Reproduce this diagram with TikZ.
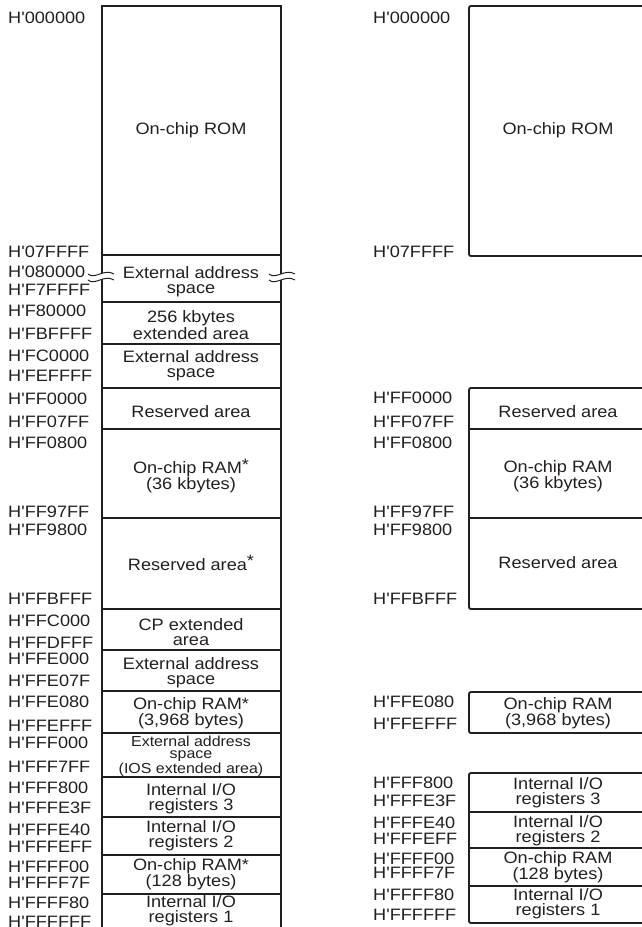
\documentclass[tikz,border=0pt]{standalone}
\usepackage{fontspec}
\newfontfamily\mapfont{Liberation Sans}[FakeStretch=1.1]
\definecolor{ink}{RGB}{35,31,32}
\newcommand\supast{\raisebox{3.5pt}{*}}
\begin{document}
\begin{tikzpicture}[x=1pt,y=-1pt,
  lbl/.style={anchor=west,inner sep=0pt,text=ink,font=\mapfont\fontsize{16.5}{15}\selectfont},
  txt/.style={align=center,inner sep=0pt,text=ink,font=\mapfont\fontsize{16.5}{15}\selectfont},
  tighttxt/.style={align=center,inner sep=0pt,text=ink,font=\mapfont\fontsize{16.5}{14}\selectfont},
  smalltxt/.style={align=center,inner sep=0pt,text=ink,font=\mapfont\fontsize{14.5}{12}\selectfont},
  mapline/.style={line width=1.9pt,draw=ink},
  wave/.style={line width=1pt,draw=ink}]
\useasboundingbox (0,0) rectangle (642,927);
\clip (0,0) rectangle (642,927);

% ---------- left map ----------
\draw[mapline] (102,940) -- (102,6) -- (281,6) -- (281,940);
\foreach \y in {255,302,344,388,429,518,609,650,691,733,777,817,855,894}
  \draw[mapline] (102,\y) -- (281,\y);

% break marks
\fill[white] (88,274) .. controls (95,280) and (104,268) .. (114,274)
  -- (114,280) .. controls (104,274) and (95,286) .. (88,280) -- cycle;
\draw[wave] (88,274) .. controls (95,280) and (104,268) .. (114,274);
\draw[wave] (88,280) .. controls (95,286) and (104,274) .. (114,280);
\fill[white] (269,274) .. controls (276,280) and (285,268) .. (295,274)
  -- (295,280) .. controls (285,274) and (276,286) .. (269,280) -- cycle;
\draw[wave] (269,274) .. controls (276,280) and (285,268) .. (295,274);
\draw[wave] (269,280) .. controls (276,286) and (285,274) .. (295,280);

\foreach \t/\y [count=\i] in {
  H'000000/18, H'07FFFF/252, H'080000/272, H'F7FFFF/290, H'F80000/311,
  H'FBFFFF/334, H'FC0000/356, H'FEFFFF/376, H'FF0000/399, H'FF07FF/422,
  H'FF0800/443, H'FF97FF/512, H'FF9800/530, H'FFBFFF/599, H'FFC000/621,
  H'FFDFFF/643, H'FFE000/659, H'FFE07F/681, H'FFE080/702, H'FFEFFF/726,
  H'FFF000/743, H'FFF7FF/767, H'FFF800/788, H'FFFE3F/808, H'FFFE40/830,
  H'FFFEFF/847, H'FFFF00/867, H'FFFF7F/883, H'FFFF80/903, H'FFFFFF/922}
  \node[lbl] (L\i) at (8,\y) {\t};

\node[txt] (a1) at (191,130) {On-chip ROM};
\node[txt] (a2) at (191,282) {External address\\space};
\node[txt] (a3) at (191,325) {256 kbytes\\extended area};
\node[txt] (a4) at (191,366) {External address\\space};
\node[txt] (a5) at (191,412) {Reserved area};
\node[tighttxt] (a6) at (191,476) {On-chip RAM\supast\\(36 kbytes)};
\node[txt] (a7) at (191,563) {Reserved area\supast};
\node[txt] (a8) at (191,632) {CP extended\\area};
\node[txt] (a9) at (191,673) {External address\\space};
\node[tighttxt] (a10) at (191,713) {On-chip RAM*\\(3,968 bytes)};
\node[smalltxt] (a11) at (191,756) {External address\\space\\(IOS extended area)};
\node[txt] (a12) at (191,799) {Internal I/O\\registers 3};
\node[txt] (a13) at (191,836) {Internal I/O\\registers 2};
\node[txt] (a14) at (191,874) {On-chip RAM*\\(128 bytes)};
\node[txt] (a15) at (191,911) {Internal I/O\\registers 1};

% ---------- right map ----------
\draw[mapline,rounded corners=2pt] (650,6) -- (469,6) -- (469,256) -- (650,256);
\draw[mapline,rounded corners=2pt] (650,388) -- (469,388) -- (469,609) -- (650,609);
\draw[mapline] (469,429) -- (650,429);
\draw[mapline] (469,518) -- (650,518);
\draw[mapline,rounded corners=2pt] (650,692) -- (469,692) -- (469,733) -- (650,733);
\draw[mapline,rounded corners=2pt] (650,773) -- (469,773) -- (469,923) -- (650,923);
\foreach \y in {812,848,886}
  \draw[mapline] (469,\y) -- (650,\y);

\foreach \t/\y [count=\i] in {
  H'000000/18, H'07FFFF/252, H'FF0000/398, H'FF07FF/422, H'FF0800/443,
  H'FF97FF/512, H'FF9800/530, H'FFBFFF/599, H'FFE080/702, H'FFEFFF/724,
  H'FFF800/783, H'FFFE3F/801, H'FFFE40/823, H'FFFEFF/839, H'FFFF00/859,
  H'FFFF7F/873, H'FFFF80/895, H'FFFFFF/915}
  \node[lbl] (R\i) at (373,\y) {\t};

\node[txt] (b1) at (558,130) {On-chip ROM};
\node[txt] (b2) at (558,412) {Reserved area};
\node[tighttxt] (b3) at (558,476) {On-chip RAM\\(36 kbytes)};
\node[txt] (b4) at (558,563) {Reserved area};
\node[tighttxt] (b5) at (558,713) {On-chip RAM\\(3,968 bytes)};
\node[txt] (b6) at (558,793) {Internal I/O\\registers 3};
\node[txt] (b7) at (558,831) {Internal I/O\\registers 2};
\node[tighttxt] (b8) at (558,867) {On-chip RAM\\(128 bytes)};
\node[txt] (b9) at (558,904) {Internal I/O\\registers 1};
\end{tikzpicture}
\end{document}
